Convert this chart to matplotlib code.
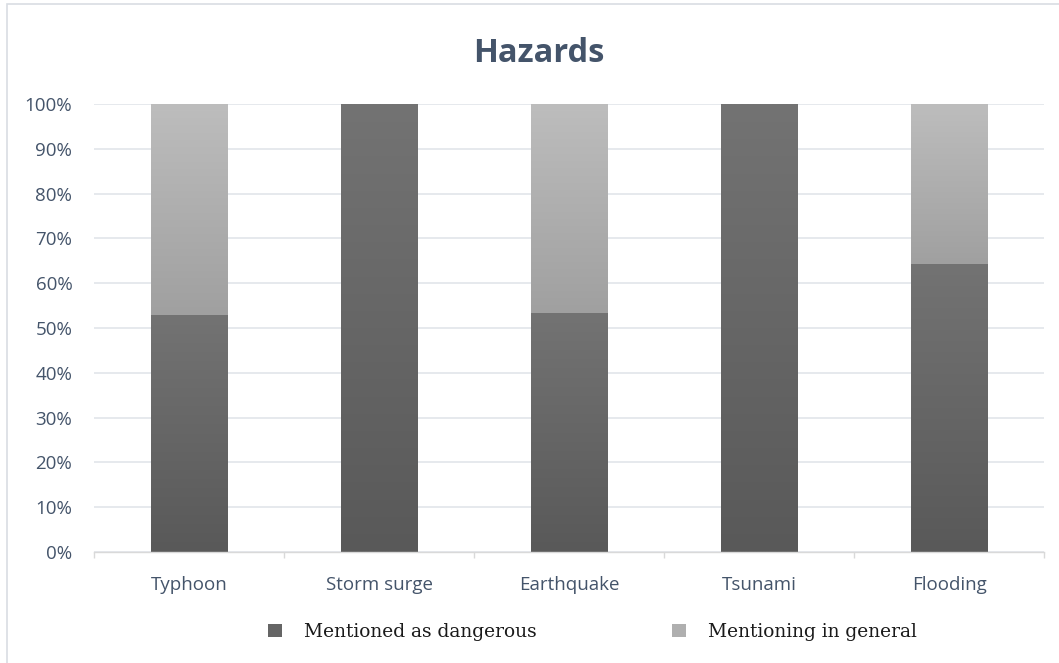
import matplotlib
matplotlib.use("Agg")
import matplotlib.pyplot as plt
import numpy as np
from matplotlib.colors import LinearSegmentedColormap
from matplotlib.patches import Rectangle, Patch
from matplotlib.ticker import PercentFormatter, FixedLocator

# Share of mentions per hazard (percent)
categories = ["Typhoon", "Storm surge", "Earthquake", "Tsunami", "Flooding"]
dangerous = [52.9, 100.0, 53.3, 100.0, 64.3]
general = [47.1, 0.0, 46.7, 0.0, 35.7]
series_names = ["Mentioned as dangerous", "Mentioning in general"]

# Vertical gradients (bottom -> top) for each series
dark_cmap = LinearSegmentedColormap.from_list("dark", ["#595959", "#737373"])
light_cmap = LinearSegmentedColormap.from_list("light", ["#a0a0a0", "#bdbdbd"])

W, H = 1059, 663
fig = plt.figure(figsize=(W / 100, H / 100), dpi=100)
fig.patch.set_facecolor("white")

# Chart-area frame
fig.patches.append(Rectangle((7 / W, -0.05), 1.2, (H - 4) / H + 0.05,
                             transform=fig.transFigure, fill=False,
                             edgecolor="#d9dde3", linewidth=1.2))

ax = fig.add_axes([94.5 / W, (H - 552) / H, (1044 - 94.5) / W, (552 - 104) / H])

x = np.arange(len(categories))
width = 0.405
bars_dark = ax.bar(x, dangerous, width, color="none", edgecolor="none", zorder=2)
bars_light = ax.bar(x, general, width, bottom=dangerous, color="none",
                    edgecolor="none", zorder=2)

grad = np.linspace(0, 1, 256).reshape(-1, 1)
for bars, cmap in ((bars_dark, dark_cmap), (bars_light, light_cmap)):
    for p in bars:
        if p.get_height() <= 0:
            continue
        x0, y0 = p.get_x(), p.get_y()
        im = ax.imshow(grad, cmap=cmap, origin="lower", aspect="auto",
                       extent=(x0, x0 + p.get_width(), y0, y0 + p.get_height()),
                       zorder=2, interpolation="bilinear")
        im.set_clip_path(p)

ax.set_xlim(-0.5, len(categories) - 0.5)
ax.set_ylim(0, 100)

# Axes styling
for s in ("top", "right", "left"):
    ax.spines[s].set_visible(False)
ax.spines["bottom"].set_color("#d9d9d9")
ax.spines["bottom"].set_linewidth(1.0)
ax.spines["bottom"].set_zorder(3)

ax.yaxis.set_major_locator(FixedLocator(np.arange(0, 101, 10)))
ax.yaxis.set_major_formatter(PercentFormatter(100, decimals=0))
ax.grid(axis="y", color="#dfe3e8", linewidth=1.1, zorder=0)
ax.set_axisbelow(True)

ax.set_xticks(x)
ax.set_xticklabels(categories)
ax.xaxis.set_minor_locator(FixedLocator(np.arange(-0.5, len(categories), 1.0)))
ax.tick_params(axis="x", which="major", length=0, pad=17)
ax.tick_params(axis="x", which="minor", length=4.5, color="#d9d9d9", width=1.0)
ax.tick_params(axis="y", length=0, pad=16)

tick_color = "#44546a"
for lab in ax.get_xticklabels() + ax.get_yticklabels():
    lab.set_fontfamily("Open Sans")
    lab.set_fontsize(13.5)
    lab.set_color(tick_color)

fig.text(539 / W, (H - 54) / H, "Hazards", ha="center", va="center",
         fontfamily="Open Sans", fontweight="bold", fontsize=23.5, color="#44546a")

handles = [Patch(facecolor="#656565", edgecolor="none"),
           Patch(facecolor="#afafaf", edgecolor="none")]
leg = fig.legend(handles, series_names, loc="center",
                 bbox_to_anchor=(592.5 / W, (H - 632) / H), ncol=2, frameon=False,
                 prop={"family": "DejaVu Serif", "size": 13.4},
                 handlelength=0.75, handleheight=0.75, handletextpad=1.18,
                 columnspacing=7.3)
for t in leg.get_texts():
    t.set_color("#1a1a1a")

fig.savefig("out.png", dpi=100, facecolor="white")
